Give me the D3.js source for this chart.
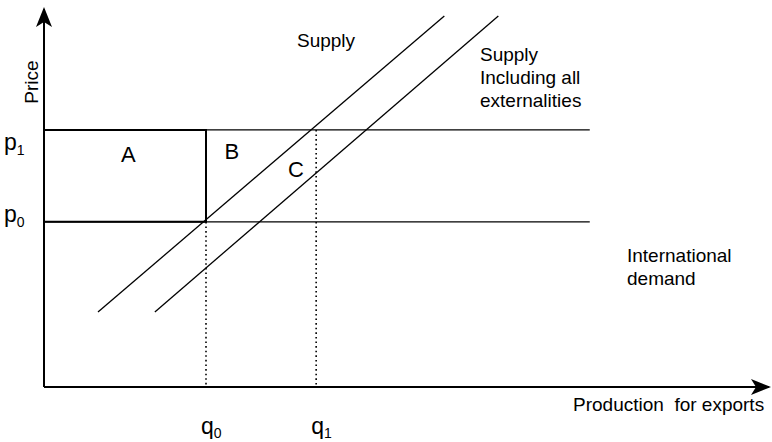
<!DOCTYPE html>
<html>
<head>
<meta charset="utf-8">
<script src="https://d3js.org/d3.v7.min.js"></script>
<style>
  body { margin: 0; background: #fff; }
  text { font-family: "Liberation Sans", Arial, sans-serif; fill: #000; }
</style>
</head>
<body>
<script>
  var width = 772;
  var height = 442;

  // diagram values (abstract units, 0..100 on both axes)
  var prices = [43.8, 68.2];          // p0, p1
  var priceNames = ["p", "p"];
  var priceSubs = ["0", "1"];
  var quantities = [22.5, 37.8];      // q0, q1
  var quantitySubs = ["0", "1"];
  var priceLineEnd = 75.8;
  var supply = [[7.5, 19.9], [55.6, 98.4]];
  var supplyExt = [[15.4, 19.9], [63.1, 98.4]];
  var areaNames = ["A", "B", "C"];

  var x = d3.scaleLinear().domain([0, 100]).range([44, 764]);
  var y = d3.scaleLinear().domain([0, 100]).range([387, 10]);

  var svg = d3.select("body").append("svg")
      .attr("width", width)
      .attr("height", height);

  svg.append("defs").append("marker")
      .attr("id", "arrow")
      .attr("viewBox", "0 0 20 16")
      .attr("refX", 18)
      .attr("refY", 8)
      .attr("markerWidth", 20)
      .attr("markerHeight", 16)
      .attr("markerUnits", "userSpaceOnUse")
      .attr("orient", "auto")
      .append("path")
      .attr("d", "M0,0 L20,8 L0,16 L5,8 Z")
      .attr("fill", "#000");

  var line = d3.line()
      .x(function (d) { return x(d[0]); })
      .y(function (d) { return y(d[1]); });

  // dotted verticals at q0, q1
  svg.selectAll(".qline")
      .data(quantities)
      .enter().append("line")
      .attr("x1", function (d) { return x(d); })
      .attr("x2", function (d) { return x(d); })
      .attr("y1", function (d, i) { return y(prices[i]); })
      .attr("y2", y(0))
      .attr("stroke", "#000")
      .attr("stroke-width", 1.6)
      .attr("stroke-dasharray", "1.6,3");

  // price lines (thin part)
  svg.selectAll(".pline")
      .data(prices)
      .enter().append("line")
      .attr("x1", x(0))
      .attr("x2", x(priceLineEnd))
      .attr("y1", function (d) { return y(d); })
      .attr("y2", function (d) { return y(d); })
      .attr("stroke", "#000")
      .attr("stroke-width", 1.4);

  // rectangle A (thicker)
  svg.append("path")
      .attr("d", line([[0, prices[1]], [quantities[0], prices[1]], [quantities[0], prices[0]], [0, prices[0]]]))
      .attr("fill", "none")
      .attr("stroke", "#000")
      .attr("stroke-width", 2);

  // supply curves
  [supply, supplyExt].forEach(function (s) {
    svg.append("path")
        .attr("d", line(s))
        .attr("fill", "none")
        .attr("stroke", "#000")
        .attr("stroke-width", 1.3);
  });

  // axes
  svg.append("line")
      .attr("x1", x(0)).attr("y1", y(0))
      .attr("x2", x(0)).attr("y2", 9)
      .attr("stroke", "#000").attr("stroke-width", 2)
      .attr("marker-end", "url(#arrow)");
  svg.append("line")
      .attr("x1", x(0)).attr("y1", y(0))
      .attr("x2", 769).attr("y2", y(0))
      .attr("stroke", "#000").attr("stroke-width", 2)
      .attr("marker-end", "url(#arrow)");

  // price labels (p0 sits on its line, p1 just below)
  var pOffset = [0, 20];
  var pl = svg.selectAll(".plabel")
      .data(prices)
      .enter().append("text")
      .attr("x", 4)
      .attr("y", function (d, i) { return y(d) + pOffset[i]; })
      .style("font-size", "23px");
  pl.append("tspan").text(function (d, i) { return priceNames[i]; });
  pl.append("tspan").attr("dy", 5).style("font-size", "14px")
      .text(function (d, i) { return priceSubs[i]; });

  // quantity labels
  var ql = svg.selectAll(".qlabel")
      .data(quantities)
      .enter().append("text")
      .attr("x", function (d) { return x(d) - 5; })
      .attr("y", 434)
      .style("font-size", "23px");
  ql.append("tspan").text("q");
  ql.append("tspan").attr("dy", 4).style("font-size", "14px")
      .text(function (d, i) { return quantitySubs[i]; });

  // area labels
  var areaPos = [
    [11.7, prices[1] - 8.5],
    [quantities[0] + 3.6, prices[1] - 7.7],
    [quantities[1] - 2.8, prices[1] - 12.5]
  ];
  svg.selectAll(".alabel")
      .data(areaNames)
      .enter().append("text")
      .attr("x", function (d, i) { return x(areaPos[i][0]); })
      .attr("y", function (d, i) { return y(areaPos[i][1]); })
      .attr("text-anchor", "middle")
      .style("font-size", "22px")
      .text(function (d) { return d; });

  // curve labels
  svg.append("text").attr("x", 297).attr("y", 47)
      .style("font-size", "19px").text("Supply");

  var ext = svg.append("text").attr("x", 480).attr("y", 61).style("font-size", "19px");
  ["Supply", "Including all", "externalities"].forEach(function (t, i) {
    ext.append("tspan").attr("x", 480).attr("dy", i ? 23 : 0).text(t);
  });

  var dem = svg.append("text").attr("x", 627).attr("y", 262).style("font-size", "19px");
  ["International", "demand"].forEach(function (t, i) {
    dem.append("tspan").attr("x", 627).attr("dy", i ? 23 : 0).text(t);
  });

  // axis titles
  svg.append("text").attr("x", 573).attr("y", 411)
      .style("font-size", "19px").style("white-space", "pre")
      .attr("xml:space", "preserve")
      .text("Production  for exports");

  svg.append("text")
      .attr("transform", "translate(38,82) rotate(-90)")
      .attr("text-anchor", "middle")
      .style("font-size", "19px")
      .text("Price");
</script>
</body>
</html>
